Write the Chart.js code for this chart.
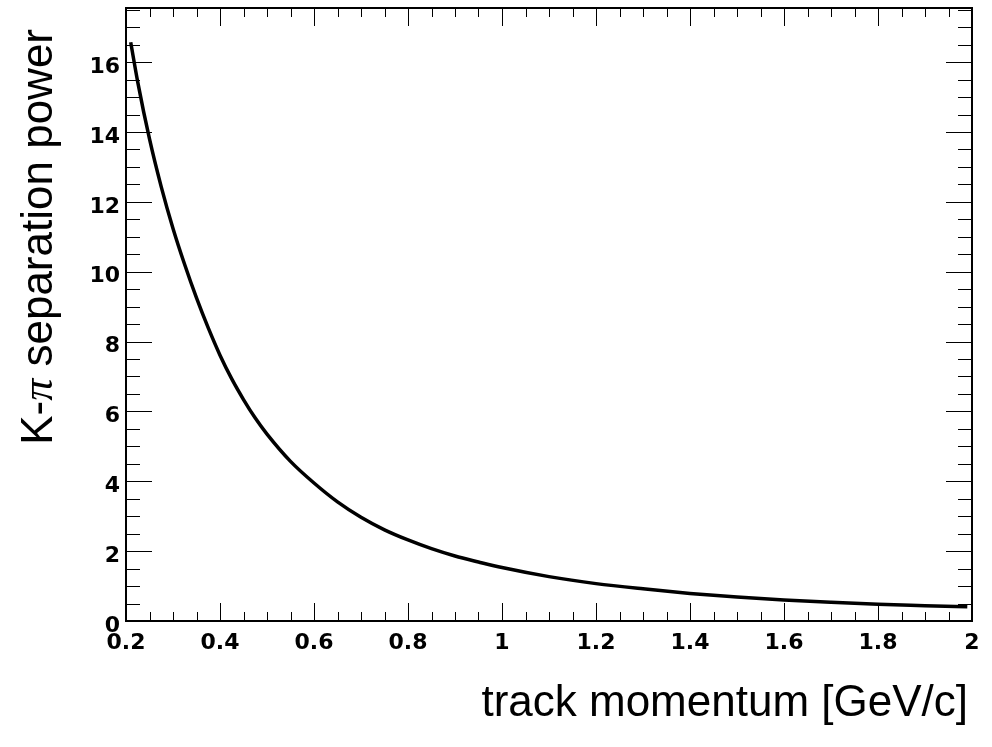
<!DOCTYPE html>
<html>
<head>
<meta charset="utf-8">
<script src="https://cdn.jsdelivr.net/npm/chart.js@4"></script>
<style>
body { margin: 0; background: #fff; }
canvas { display: block; }
</style>
</head>
<body>
<canvas id="kpiChart" width="992" height="747"></canvas>
<script>
// track momentum [GeV/c]
const momentum = [0.21, 0.225, 0.25, 0.275, 0.3, 0.325, 0.35, 0.375, 0.4, 0.425, 0.45, 0.475, 0.5, 0.55, 0.6, 0.65,
    0.7, 0.75, 0.8, 0.85, 0.9, 0.95, 1.0, 1.1, 1.2, 1.3, 1.4, 1.5, 1.6, 1.7, 1.8, 1.9, 1.99];
// K-pi separation power
const separation = [16.57, 15.43, 13.8, 12.43, 11.24, 10.2, 9.25, 8.39, 7.61, 6.93, 6.34, 5.81, 5.35, 4.57, 3.95, 3.41,
    2.97, 2.61, 2.32, 2.07, 1.86, 1.69, 1.53, 1.27, 1.07, 0.92, 0.79, 0.685, 0.6, 0.535, 0.48, 0.44, 0.405];

// tick labels
const xTickValues = [0.2, 0.4, 0.6, 0.8, 1, 1.2, 1.4, 1.6, 1.8, 2];
const yTickValues = [0, 2, 4, 6, 8, 10, 12, 14, 16];

const xTitle = 'track momentum [GeV/c]';
const yTitleParts = ['K-', '\u03c0', ' separation power'];

// ROOT-like frame: inward ticks on all four sides plus axis titles
const rootFrame = {
    id: 'rootFrame',
    afterDraw(chart) {
        const { ctx, chartArea: a, scales: { x, y } } = chart;
        ctx.save();
        ctx.strokeStyle = '#000';
        ctx.lineWidth = 1;
        ctx.beginPath();
        // x ticks, minor every 0.05
        for (let i = 0; i <= 36; i++) {
            const px = Math.round(x.getPixelForValue(0.2 + i * 0.05)) + 0.5;
            const len = i % 4 === 0 ? 18 : 9;
            ctx.moveTo(px, a.bottom); ctx.lineTo(px, a.bottom - len);
            ctx.moveTo(px, a.top); ctx.lineTo(px, a.top + len);
        }
        // y ticks, minor every 0.5
        for (let i = 0; i <= 35; i++) {
            const py = Math.round(y.getPixelForValue(i * 0.5)) + 0.5;
            const len = i % 4 === 0 ? 26 : 14;
            ctx.moveTo(a.left, py); ctx.lineTo(a.left + len, py);
            ctx.moveTo(a.right, py); ctx.lineTo(a.right - len, py);
        }
        ctx.stroke();
        ctx.lineWidth = 2;
        ctx.strokeRect(a.left, a.top, a.right - a.left, a.bottom - a.top);

        // axis titles
        ctx.fillStyle = '#000';
        ctx.textBaseline = 'alphabetic';
        ctx.font = '44px "Liberation Sans"';
        ctx.textAlign = 'right';
        ctx.fillText(xTitle, a.right - 4, a.bottom + 95);

        const fonts = ['44px "Liberation Sans"', 'italic 44px "Liberation Serif"', '44px "Liberation Sans"'];
        let widths = yTitleParts.map((t, i) => { ctx.font = fonts[i]; return ctx.measureText(t).width; });
        let total = widths.reduce((s, w) => s + w, 0);
        ctx.translate(52, a.top + 21);
        ctx.rotate(-Math.PI / 2);
        ctx.textAlign = 'left';
        let pos = -total;
        yTitleParts.forEach((t, i) => {
            ctx.font = fonts[i];
            ctx.fillText(t, pos, 0);
            pos += widths[i];
        });
        ctx.restore();
    }
};

const tickFont = { family: 'DejaVu Sans', weight: 'bold', size: 22 };

function setupChart() {
    const ctx = document.getElementById('kpiChart').getContext('2d');
    new Chart(ctx, {
        type: 'line',
        data: {
            datasets: [{
                data: momentum.map((p, i) => ({ x: p, y: separation[i] })),
                borderColor: '#000',
                borderWidth: 3.5,
                pointRadius: 0,
                fill: false,
                cubicInterpolationMode: 'monotone'
            }]
        },
        options: {
            responsive: false,
            animation: false,
            layout: { padding: { top: 8, right: 20, left: 0, bottom: 0 } },
            plugins: { legend: { display: false }, tooltip: { enabled: false } },
            scales: {
                x: {
                    type: 'linear',
                    min: 0.2,
                    max: 2,
                    grid: { display: false, drawTicks: false },
                    border: { display: false },
                    afterBuildTicks: s => { s.ticks = xTickValues.map(v => ({ value: v })); },
                    afterFit: s => { s.height = 126; s.paddingLeft = 0; s.paddingRight = 0; },
                    ticks: {
                        color: '#000',
                        font: tickFont,
                        padding: 9,
                        maxRotation: 0,
                        autoSkip: false,
                        callback: v => String(v)
                    }
                },
                y: {
                    type: 'linear',
                    min: 0,
                    max: 17.55,
                    grid: { display: false, drawTicks: false },
                    border: { display: false },
                    afterBuildTicks: s => { s.ticks = yTickValues.map(v => ({ value: v })); },
                    afterFit: s => { s.width = 126; s.paddingTop = 0; s.paddingBottom = 0; },
                    ticks: {
                        color: '#000',
                        font: tickFont,
                        padding: 6,
                        labelOffset: 5,
                        autoSkip: false,
                        callback: v => String(v)
                    }
                }
            }
        },
        plugins: [rootFrame]
    });
}

setupChart();
</script>
</body>
</html>
